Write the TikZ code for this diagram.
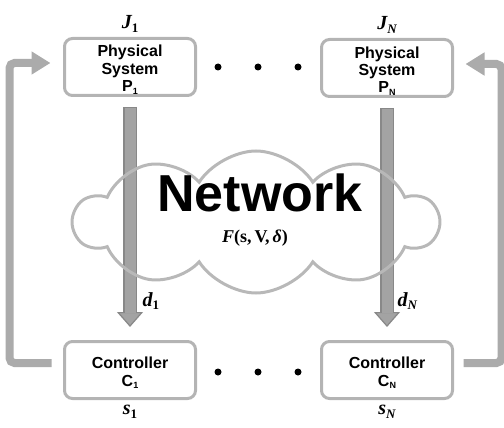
\documentclass[tikz,border=0pt]{standalone}
\usepackage{fontspec}
\newfontfamily\labelfont{Liberation Sans}
\newfontfamily\symfont{Liberation Serif}
\usetikzlibrary{positioning,shapes.symbols,arrows.meta}
\definecolor{boxgray}{HTML}{B4B4B4}
\definecolor{cloudgray}{HTML}{B8B8B8}
\definecolor{shaftgray}{HTML}{A3A3A3}
\definecolor{edgegray}{HTML}{888888}
\definecolor{loopgray}{HTML}{ABABAB}
\newcommand{\lowidx}[1]{\smash{\raisebox{-2.5pt}{\fontsize{9}{9}\selectfont #1}}}
\newcommand{\symlbl}[2]{{\itshape #1}\raisebox{-3.5pt}{\fontsize{13}{13}\selectfont #2}}
\newcommand{\topgap}{\rule{0pt}{15pt}}
\tikzset{
  plant/.style={draw=boxgray,line width=3pt,rounded corners=8pt,minimum width=131pt,minimum height=57pt,inner sep=1pt,align=center,font=\labelfont\bfseries\fontsize{16}{17.5}\selectfont},
  dot/.style={circle,fill=black,inner sep=0pt,minimum size=7pt},
  sym/.style={font=\symfont\bfseries\fontsize{20}{22}\selectfont},
  channel/.style={draw=edgegray,line width=14pt,-{Triangle[length=15pt,width=26pt,line width=1.2pt,color=edgegray,fill=shaftgray]},
    postaction={draw=shaftgray,line width=11pt,arrows=-,shorten >=14pt,shorten <=1.5pt}},
  feedback/.style={draw=loopgray,line width=8pt,rounded corners=5pt,-{Triangle[length=19pt,width=22pt]}}
}

\begin{document}
\begin{tikzpicture}[x=1pt,y=-1pt]
  \useasboundingbox (0,0) rectangle (504,428);
  % plants and controllers
  \node[plant] (p1) at (130,67) {\topgap Physical\\System\\P\lowidx{1}};
  \node[plant] (pn) at (387,68) {\topgap Physical\\System\\P\lowidx{N}};
  \node[plant] (c1) at (130,370) {\topgap Controller\\C\lowidx{1}};
  \node[plant] (cn) at (387,370) {\topgap Controller\\C\lowidx{N}};
  \node[sym,above=1pt of p1] (j1) {\symlbl{J}{1}};
  \node[sym,above=1pt of pn] (jn) {\symlbl{J}{\itshape N}};
  \node[sym,below=2pt of c1] (s1) {\symlbl{s}{1}};
  \node[sym,below=2pt of cn] (sn) {\symlbl{s}{\itshape N}};
  \foreach \x [count=\i] in {218,258,298} {
    \node[dot] (up\i) at (\x,67) {};
    \node[dot] (lo\i) at (\x,372) {};
  }
  % data through the network
  \draw[channel] ([yshift=-10pt]p1.south) -- ([yshift=13pt]c1.north);
  \draw[channel] ([yshift=-10pt]pn.south) -- ([yshift=13pt]cn.north);
  \node[sym,anchor=west] (d1) at (139,301) {\symlbl{d}{1}};
  \node[sym,anchor=west] (dn) at (394,301) {\symlbl{d}{\itshape N}};
  \node[cloud,cloud puffs=10,cloud puff arc=115,aspect=2.5,draw=cloudgray,line width=3pt,
    minimum width=364pt,minimum height=142pt] (net) at (256,222) {};
  \node[font=\labelfont\bfseries\fontsize{52}{52}\selectfont] (nettext) at (260,193) {Network};
  \node[sym,font=\symfont\bfseries\fontsize{18}{20}\selectfont] (fn) at (255,238) {\textit{F}(s,\,V,\,\textit{δ})};
  % control loops
  \draw[feedback] ([xshift=-11.5pt,yshift=7pt]c1.west) -- ++(-42,0) |- ([xshift=-12.5pt,yshift=4pt]p1.west);
  \draw[feedback] ([xshift=9.5pt,yshift=7pt]cn.east) -- ++(38,0) |- ([xshift=11.5pt,yshift=4pt]pn.east);
\end{tikzpicture}
\end{document}
